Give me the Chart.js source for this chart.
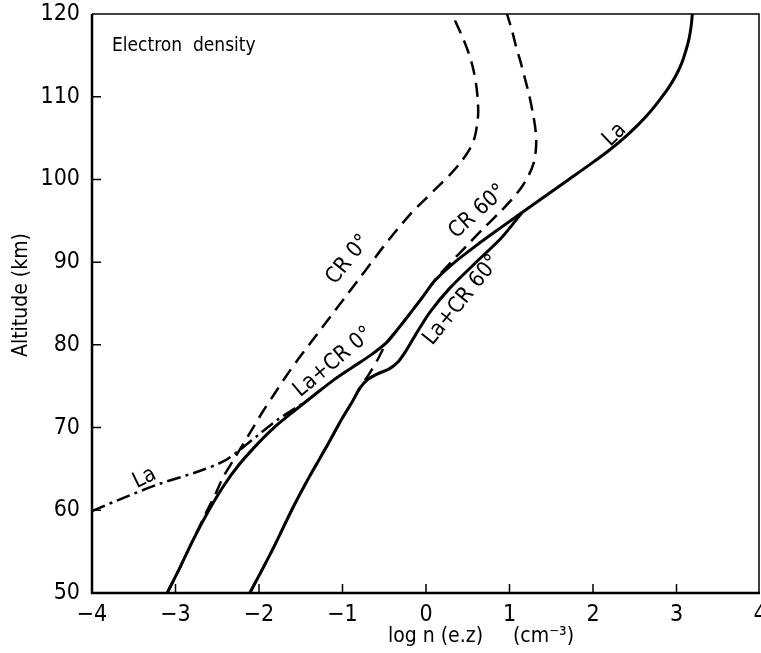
<!DOCTYPE html>
<html>
<head>
<meta charset="utf-8">
<script src="https://cdn.jsdelivr.net/npm/chart.js@4"></script>
<style>
  body { margin:0; background:#fff; }
  #wrap { width:761px; height:653px; }
</style>
</head>
<body>
<div id="wrap"><canvas id="mychart" width="761" height="653"></canvas></div>
<script>

// log n values (x) and altitudes in km (y)
var laTopX = [1.15, 1.43, 1.71, 1.99, 2.19, 2.37, 2.53, 2.67, 2.79, 2.90, 2.99, 3.06, 3.11, 3.15, 3.175, 3.19];
var laTopY = [96, 98, 100, 102, 103.5, 105, 106.5, 108, 109.5, 111, 112.5, 114, 115.5, 117, 118.5, 120];

var laLowX = [-4.0, -3.60, -3.19, -2.71, -2.41, -2.23, -2.01, -1.77, -1.51, -1.42];
var laLowY = [59.9, 61.6, 63.2, 64.75, 66.0, 67.3, 69.1, 71.0, 72.7, 73.3];

var laCr0X = [-3.10, -2.95, -2.79, -2.60, -2.42, -2.24, -2.02, -1.82, -1.58, -1.33, -1.10, -0.88, -0.67, -0.47, -0.33, -0.19, -0.04, 0.11, 0.32, 0.60, 0.90, 1.15];
var laCr0Y = [50, 53, 56.4, 60, 63, 65.5, 68, 70, 72, 74, 75.8, 77.3, 78.7, 80.3, 82, 83.8, 85.8, 87.8, 89.8, 92, 94.2, 96];

var laCr60X = [-2.11, -1.85, -1.59, -1.40, -1.19, -1.01, -0.89, -0.79, -0.70, -0.58, -0.44, -0.33, -0.22, -0.12, 0.05, 0.28, 0.56, 0.89, 1.04, 1.15];
var laCr60Y = [50, 55, 60.4, 64, 67.7, 71, 73, 74.8, 75.8, 76.5, 77.1, 78.0, 79.6, 81.3, 84.0, 86.8, 89.6, 92.8, 94.6, 96];

var cr0X = [-3.10, -2.95, -2.79, -2.62, -2.52, -2.43, -2.31, -2.19, -2.07, -1.95, -1.82, -1.69, -1.55, -1.40, -1.25, -1.10, -0.95, -0.80, -0.65, -0.50, -0.34, -0.17, -0.02, 0.13, 0.28, 0.41, 0.52, 0.58, 0.61, 0.625, 0.62, 0.60, 0.56, 0.51, 0.45, 0.38, 0.31];
var cr0Y = [50, 53, 56.4, 60, 62, 64, 66, 68, 70, 72, 74, 76, 78, 80, 82, 84, 86, 88, 90, 92, 94, 96, 97.5, 99, 100.5, 102, 103.6, 105, 106.5, 108, 109.6, 111.5, 113.6, 115.3, 116.9, 118.5, 120];

var cr60X = [-2.11, -1.85, -1.59, -1.40, -1.19, -1.01, -0.89, -0.79, -0.68, -0.58, -0.47, -0.33, -0.19, -0.04, 0.12, 0.30, 0.49, 0.68, 0.88, 1.02, 1.14, 1.23, 1.29, 1.315, 1.32, 1.305, 1.28, 1.24, 1.19, 1.13, 1.08, 1.03, 0.97];
var cr60Y = [50, 55, 60.4, 64, 67.7, 71, 73, 74.8, 76.5, 78.2, 80.3, 82, 83.8, 85.8, 88, 90, 92, 94, 96, 97.5, 99, 100.5, 102, 103.5, 105, 106.5, 108, 110, 112, 114.3, 116, 118, 120];

var xTicks = [-4, -3, -2, -1, 0, 1, 2, 3, 4];
var yTicks = [50, 60, 70, 80, 90, 100, 110, 120];

// curve labels: text, x, y, rotation (deg)
var curveLabels = [
  ['CR 0°', -0.93, 90.3, -51],
  ['CR 60°', 0.62, 96.1, -42],
  ['La', 2.26, 105.4, -44],
  ['La+CR 0°', -1.11, 77.9, -40],
  ['La+CR 60°', 0.43, 85.4, -51],
  ['La', -3.37, 63.9, -26]
];

var FONT = "'DejaVu Sans Condensed', 'Liberation Sans', sans-serif";

function pts(xs, ys) {
  var out = [];
  for (var i = 0; i < xs.length; i++) out.push({ x: xs[i], y: ys[i] });
  return out;
}

function line(data, dash, width) {
  return {
    data: data,
    showLine: true,
    borderColor: '#000',
    borderWidth: width,
    borderDash: dash,
    pointRadius: 0,
    tension: 0.3,
    fill: false
  };
}

const framePlugin = {
  id: 'frame',
  afterDraw(chart) {
    const ctx = chart.ctx;
    const a = chart.chartArea;
    const xs = chart.scales.x, ys = chart.scales.y;
    ctx.save();
    ctx.strokeStyle = '#000';
    ctx.lineCap = 'butt';
    // box
    ctx.lineWidth = 2.5;
    ctx.beginPath();
    ctx.moveTo(a.left, a.top); ctx.lineTo(a.left, a.bottom); ctx.lineTo(a.right, a.bottom);
    ctx.stroke();
    ctx.lineWidth = 1.5;
    ctx.beginPath();
    ctx.moveTo(a.left, a.top); ctx.lineTo(a.right - 1, a.top); ctx.lineTo(a.right - 1, a.bottom);
    ctx.stroke();
    // inward ticks
    ctx.lineWidth = 1.5;
    ctx.beginPath();
    for (var i = 1; i < yTicks.length - 1; i++) {
      var py = ys.getPixelForValue(yTicks[i]);
      ctx.moveTo(a.left, py); ctx.lineTo(a.left + 9, py);
    }
    for (var j = 1; j < xTicks.length - 1; j++) {
      var px = xs.getPixelForValue(xTicks[j]);
      ctx.moveTo(px, a.bottom); ctx.lineTo(px, a.bottom - 9);
    }
    ctx.stroke();

    // texts
    ctx.fillStyle = '#000';
    ctx.textBaseline = 'middle';
    ctx.font = '19px ' + FONT;
    ctx.textAlign = 'left';
    ctx.fillText('Electron  density', 112, 46);

    ctx.font = '21px ' + FONT;
    ctx.textAlign = 'center';
    ctx.fillText('log n (e.z)     (cm\u207B\u00B3)', 481, 637);

    ctx.save();
    ctx.translate(22, 295);
    ctx.rotate(-Math.PI / 2);
    ctx.fillText('Altitude (km)', 0, 0);
    ctx.restore();

    ctx.font = '22px ' + FONT;
    curveLabels.forEach(function (l) {
      ctx.save();
      ctx.translate(xs.getPixelForValue(l[1]), ys.getPixelForValue(l[2]));
      ctx.rotate(l[3] * Math.PI / 180);
      ctx.fillText(l[0], 0, 0);
      ctx.restore();
    });
    ctx.restore();
  }
};

const config = {
  type: 'scatter',
  plugins: [framePlugin],
  data: {
    datasets: [
      line(pts(cr0X, cr0Y), [14, 8], 2.5),
      line(pts(cr60X, cr60Y), [14, 8], 2.5),
      line(pts(laLowX, laLowY), [14, 5, 3, 5], 2.5),
      line(pts(laCr0X, laCr0Y), [], 3),
      line(pts(laCr60X, laCr60Y), [], 3),
      line(pts(laTopX, laTopY), [], 3)
    ]
  },
  options: {
    responsive: false,
    animation: false,
    layout: { padding: { left: 0, right: 1, top: 14, bottom: 0 } },
    plugins: { legend: { display: false }, tooltip: { enabled: false } },
    scales: {
      x: {
        type: 'linear', min: -4, max: 4,
        grid: { display: false, drawTicks: false },
        border: { display: false },
        afterBuildTicks: function (s) { s.ticks = xTicks.map(function (v) { return { value: v }; }); },
        ticks: {
          color: '#000', padding: 8, maxRotation: 0,
          font: { size: 23, family: FONT },
          callback: function (v) { return String(v).replace('-', '\u2212'); }
        },
        afterFit: function (s) { s.height = 60; s.paddingLeft = 0; s.paddingRight = 0; }
      },
      y: {
        type: 'linear', min: 50, max: 120,
        grid: { display: false, drawTicks: false },
        border: { display: false },
        afterBuildTicks: function (s) { s.ticks = yTicks.map(function (v) { return { value: v }; }); },
        ticks: {
          color: '#000', padding: 12,
          font: { size: 23, family: FONT }
        },
        afterFit: function (s) { s.width = 92; s.paddingTop = 0; s.paddingBottom = 0; }
      }
    }
  }
};

const myChart = new Chart(document.getElementById('mychart').getContext('2d'), config);
</script>
</body>
</html>
